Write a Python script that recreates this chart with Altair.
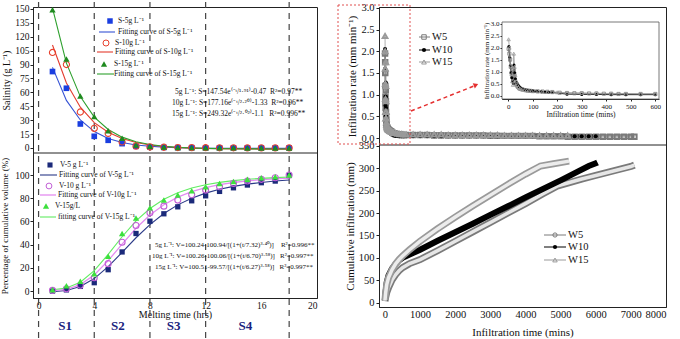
import altair as alt
import pandas as pd

FONT = "Liberation Serif"

# ---------------- left panel data ----------------
hours = [1, 2, 3, 4, 5, 6, 7, 8, 9, 10, 11, 12, 13, 14, 15, 16, 17, 18]
s5 = [82.4, 64.4, 25.9, 12.6, 8.3, 4.7, 1.8, 1.1, 0.6, 0.4, 0.3, 0.2, 0.2, 0.1, 0.1, 0.1, 0.1, 0.1]
s10 = [103, 90, 38.8, 21.2, 15.8, 6.5, 2.0, 1.2, 0.8, 0.5, 0.4, 0.3, 0.2, 0.2, 0.1, 0.1, 0.1, 0.1]
s15 = [149, 96, 56, 34, 18.7, 10.4, 3.2, 1.8, 1.0, 0.6, 0.4, 0.3, 0.2, 0.2, 0.1, 0.1, 0.1, 0.1]
fit_s5 = [86.9, 51.3, 30.2, 17.7, 10.3, 5.9, 3.3, 1.8, 0.9, 0.3, 0.0, -0.2, -0.3, -0.4, -0.4, -0.4, -0.45, -0.45]
fit_s10 = [111.1, 70.1, 44.0, 27.4, 16.9, 10.3, 6.0, 3.3, 1.6, 0.55, -0.1, -0.6, -0.85, -1.0, -1.1, -1.2, -1.25, -1.3]
fit_s15 = [150.9, 91.5, 55.4, 33.3, 19.9, 11.7, 6.7, 3.7, 1.8, 0.7, 0.0, -0.44, -0.7, -0.85, -0.95, -1.0, -1.05, -1.07]

v5 = [0, 1, 4, 7.2, 18.4, 33.7, 49.6, 60.2, 66.6, 72.6, 77.8, 82.1, 85.9, 89, 91.4, 93.4, 94.8, 99.6]
v10 = [0.6, 2, 5, 11.5, 23.6, 42, 56.5, 67.4, 73.2, 78.4, 83, 87, 89.9, 92.8, 94.8, 96.3, 97.7, 100]
v15 = [1.2, 4.5, 8.5, 15, 30, 49.6, 63, 71.8, 78.4, 82.7, 86.5, 89.9, 92.8, 94.5, 96.3, 97.7, 98.6, 100]
fit_v5 = [-0.58, 0.51, 3.94, 10.76, 20.98, 33.34, 45.94, 57.32, 66.80, 74.28, 80.03, 84.39, 87.70, 90.22, 92.15, 93.63, 94.80, 95.72]
fit_v10 = [0.31, 1.50, 5.54, 13.84, 26.18, 40.48, 54.15, 65.60, 74.45, 81.00, 85.76, 89.21, 91.73, 93.58, 94.97, 96.01, 96.81, 97.43]
fit_v15 = [1.08, 2.58, 7.58, 17.54, 31.58, 46.81, 60.41, 71.16, 79.09, 84.75, 88.77, 91.64, 93.69, 95.20, 96.31, 97.15, 97.79, 98.28]

phase_edges = [0, 4, 8, 12, 18]
stage_names = ["S1", "S2", "S3", "S4"]
stage_pos = [1.9, 5.7, 9.7, 14.85]

# ---------------- right panel data ----------------
r5_t = [2, 5, 8, 11, 14, 17, 20, 23, 26, 29,
        32, 36, 40, 45, 50, 60, 70, 80, 90, 100,
        120, 140, 160, 180, 210, 240, 270, 300, 330, 360,
        390, 420, 450, 480, 540, 600,
        800, 1000, 1200, 1400, 1600, 1800, 2000, 2200, 2400, 2600, 2800,
        3000, 3200, 3400, 3600, 3800, 4000, 4200,
        4400, 4600, 4800, 5000,
        5200, 5400, 5600, 5800, 6000, 6200, 6400, 6600, 6800, 7000, 7100]
r5_v = [1.95, 1.75, 1.5, 1.2, 0.95, 0.8, 0.7, 1.1, 0.85, 0.6,
        0.5, 0.42, 0.36, 0.31, 0.28, 0.25, 0.23, 0.21, 0.2, 0.19,
        0.18, 0.17, 0.16, 0.15, 0.12, 0.11, 0.1, 0.1, 0.09, 0.09,
        0.08, 0.08, 0.07, 0.07, 0.07, 0.07,
        0.07, 0.07, 0.07, 0.06, 0.06, 0.06, 0.06, 0.06, 0.06, 0.06, 0.06,
        0.05, 0.05, 0.05, 0.05, 0.05, 0.05, 0.05,
        0.04, 0.04, 0.04, 0.04,
        0.03, 0.03, 0.03, 0.03, 0.03, 0.03, 0.03, 0.03, 0.03, 0.03, 0.03]

r10_t = [3, 6, 9, 12, 15, 18, 21, 24, 27, 30,
         35, 40, 45, 50, 60, 70, 80, 90, 100, 110,
         120, 135, 150, 165, 180,
         240, 300, 360, 420, 480, 540, 600,
         800, 1000, 1200, 1400, 1600, 1800, 2000,
         2200, 2400, 2600, 2800, 3000, 3200, 3400, 3600, 3800, 4000,
         4200, 4400, 4600, 4800, 5000, 5200, 5400, 5600, 5800, 6000]
r10_v = [2.05, 1.6, 1.25, 0.95, 0.75, 0.6, 0.5, 1.28, 0.95, 0.7,
         0.55, 0.45, 0.38, 0.33, 0.28, 0.24, 0.22, 0.2, 0.19, 0.18,
         0.17, 0.16, 0.15, 0.14, 0.13,
         0.06, 0.05, 0.05, 0.04, 0.04, 0.04, 0.04,
         0.04, 0.04, 0.04, 0.04, 0.04, 0.04, 0.04,
         0.04, 0.04, 0.04, 0.04, 0.04, 0.04, 0.04, 0.04, 0.04, 0.04,
         0.04, 0.04, 0.04, 0.04, 0.04, 0.04, 0.04, 0.04, 0.04, 0.04]

r15_t = [2, 5, 8, 11, 14, 17, 20, 23, 26, 29,
         33, 37, 42, 48, 55, 65, 75, 85, 95, 110,
         125, 140, 160, 180, 200,
         240, 300, 360, 420, 480, 540, 600,
         800, 1000, 1200, 1400, 1600,
         1800, 2000, 2200, 2400, 2600, 2800, 3000, 3200,
         3400, 3600, 3800, 4000, 4200, 4400, 4600, 4800, 5000, 5200]
r15_v = [2.35, 2.0, 1.6, 1.25, 0.9, 0.6, 0.45, 1.75, 1.2, 0.85,
         0.6, 0.45, 0.36, 0.3, 0.26, 0.24, 0.22, 0.21, 0.2, 0.19,
         0.18, 0.17, 0.16, 0.15, 0.14,
         0.12, 0.11, 0.1, 0.09, 0.09, 0.08, 0.08,
         0.08, 0.08, 0.08, 0.08, 0.08,
         0.07, 0.07, 0.07, 0.07, 0.07, 0.07, 0.07, 0.07,
         0.06, 0.06, 0.06, 0.06, 0.06, 0.06, 0.06, 0.06, 0.06, 0.06]

c5_t = [0, 20, 50, 100, 200, 300, 400, 500, 700, 1000, 1500, 2000, 2500, 3000, 3500,
        4000, 4500, 4900, 5200, 5600, 6000, 6500, 7000, 7100]
c5_v = [3, 12, 22, 33, 50, 62, 71, 78, 87, 96, 116, 137, 158, 179, 200,
        221, 243, 260, 267, 276, 284, 294, 304, 307]
c10_t = [0, 20, 50, 100, 200, 300, 400, 500, 1000, 1500, 2000, 2500, 3000, 3500,
         4000, 4500, 5000, 5500, 5800, 6000, 6050]
c10_v = [5, 25, 45, 60, 76, 86, 94, 100, 118, 138, 157, 176, 196, 215,
         235, 254, 273, 293, 305, 311, 313]
c15_t = [0, 20, 50, 100, 200, 300, 400, 500, 700, 1000, 1500, 2000, 2500, 3000, 3500,
         4000, 4430, 4800, 5240]
c15_v = [5, 22, 40, 55, 73, 86, 96, 104, 118, 137, 165, 191, 216, 240, 264,
         287, 305, 310, 316]

# ---------------- colours ----------------
C_S5, C_S5L = "#1a3ee0", "#3552d4"
C_S10, C_S10L = "#e8402c", "#e33b2e"
C_S15, C_S15L = "#1f8a1f", "#2ea02e"
C_V5, C_V5L = "#1b2a7a", "#2b3a88"
C_V10, C_V10L = "#c25fd6", "#e48cf0"
C_V15, C_V15L = "#3de03d", "#62ec62"
G5, G15 = "#7a7a7a", "#9a9a9a"
NB = "\u00a0"


def one_row():
    return pd.DataFrame({"k": [0]})


def pt(x, y, shape, color, filled, size=30, sw=1.0):
    return alt.Chart(one_row()).mark_point(
        shape=shape, filled=filled, color=color, size=size, opacity=1, strokeWidth=sw
    ).encode(x=alt.value(x), y=alt.value(y))


def seg(x1, x2, y1, y2, color, w=1.2, dash=None):
    kw = dict(color=color, strokeWidth=w)
    if dash:
        kw["strokeDash"] = dash
    return alt.Chart(one_row()).mark_rule(**kw).encode(
        x=alt.value(x1), x2=alt.value(x2), y=alt.value(y1), y2=alt.value(y2)
    )


def txt(x, y, s, size=7.5, color="#111", align="left", weight="normal"):
    return alt.Chart(one_row()).mark_text(
        align=align, baseline="middle", font=FONT, fontSize=size, color=color, fontWeight=weight
    ).encode(x=alt.value(x), y=alt.value(y), text=alt.value(s))


# ================= left column (one layered view, two stacked y scales) =================
HT, HB = 146, 145
H_LEFT = HT + HB
XL = alt.Scale(domain=[-0.4, 20], nice=False, zero=False)
XL_AX = alt.Axis(values=[0, 4, 8, 12, 16, 20], ticks=False, title="Melting time (hrs)",
                 labelFontSize=9.5, titleFontSize=10, labelPadding=2, titlePadding=0)


def xl(field):
    return alt.X(field + ":Q", scale=XL, axis=XL_AX)


YTL = alt.Y("v:Q", scale=alt.Scale(domain=[-5.4, 152], range=[HT, 0], nice=False, zero=False),
            axis=alt.Axis(orient="left", values=list(range(0, 151, 15)), title="Salinity (g L\u207b\u00b9)",
                          labelFontSize=9.5, titleFontSize=10, titlePadding=3, tickSize=3, labelPadding=1))
YBL = alt.Y("v:Q", scale=alt.Scale(domain=[-6, 119], range=[H_LEFT, HT], nice=False, zero=False),
            axis=alt.Axis(orient="left", values=[0, 20, 40, 60, 80, 100], title="Percentage of cumulative volume (%)",
                          labelFontSize=9.5, titleFontSize=9, titlePadding=5, tickSize=3, labelPadding=1))


def series(xs, ys):
    return pd.DataFrame({"h": xs, "v": ys})


o = HT
tl_group = alt.layer(
    alt.Chart(pd.DataFrame({"p": phase_edges})).mark_rule(color="#444", strokeDash=[6, 5], strokeWidth=1.2)
    .encode(x=xl("p"), y=alt.value(-5), y2=alt.value(H_LEFT + 43)),
    seg(0, 284, HT, HT, "#222", 1),
    alt.Chart(series(hours, fit_s5)).mark_line(color=C_S5L, strokeWidth=1.1).encode(x=xl("h"), y=YTL),
    alt.Chart(series(hours, fit_s10)).mark_line(color=C_S10L, strokeWidth=1.1).encode(x=xl("h"), y=YTL),
    alt.Chart(series(hours, fit_s15)).mark_line(color=C_S15L, strokeWidth=1.1).encode(x=xl("h"), y=YTL),
    alt.Chart(series(hours, s5)).mark_point(shape="square", filled=True, color=C_S5, size=32, opacity=1)
    .encode(x=xl("h"), y=YTL),
    alt.Chart(series(hours, s10)).mark_point(shape="circle", filled=False, color=C_S10, size=38, opacity=1, strokeWidth=1.1)
    .encode(x=xl("h"), y=YTL),
    alt.Chart(series(hours, s15)).mark_point(shape="triangle-up", filled=True, color=C_S15, size=40, opacity=1)
    .encode(x=xl("h"), y=YTL),
    pt(77, 14, "square", C_S5, True, 30), txt(85, 14, "S-5g L\u207b\u00b9"),
    seg(66, 82, 25, 25, C_S5L, 1.1), txt(85, 25, "Fitting curve of S-5g L\u207b\u00b9"),
    pt(73, 36, "circle", C_S10, False, 36), txt(82, 36, "S-10g L\u207b\u00b9"),
    seg(64, 80, 45, 45, C_S10L, 1.1), txt(82, 45, "Fitting curve of S-10g L\u207b\u00b9"),
    pt(71, 57, "triangle-up", C_S15, True, 38), txt(81, 57, "S-15g L\u207b\u00b9"),
    seg(64, 81, 67, 67, C_S15L, 1.1), txt(81, 67, "Fitting curve of S-15g L\u207b\u00b9"),
    txt(142, 85, "5g L\u207b\u00b9: S=147.54e\u207d\u207b\u1d57/\u00b9\u00b7\u2079\u00b9\u207e-0.47" + NB * 2 + "R\u00b2=0.97**"),
    txt(139, 96, "10g L\u207b\u00b9: S=177.16e\u207d\u207b\u1d57/\u00b2\u00b7\u00b2\u2070\u207e-1.33" + NB * 2 + "R\u00b2=0.96**"),
    txt(139, 107, "15g L\u207b\u00b9: S=249.32e\u207d\u207b\u1d57/\u00b2\u00b7\u2070\u00b2\u207e-1.1" + NB * 3 + "R\u00b2=0.996**"),
)

bl_group = alt.layer(
    alt.Chart(series(hours, fit_v5)).mark_line(color=C_V5L, strokeWidth=1.1).encode(x=xl("h"), y=YBL),
    alt.Chart(series(hours, fit_v10)).mark_line(color=C_V10L, strokeWidth=1.3).encode(x=xl("h"), y=YBL),
    alt.Chart(series(hours, fit_v15)).mark_line(color=C_V15L, strokeWidth=1.1).encode(x=xl("h"), y=YBL),
    alt.Chart(series(hours, v5)).mark_point(shape="square", filled=True, color=C_V5, size=28, opacity=1)
    .encode(x=xl("h"), y=YBL),
    alt.Chart(series(hours, v10)).mark_point(shape="circle", filled=False, color=C_V10, size=36, opacity=1, strokeWidth=1.1)
    .encode(x=xl("h"), y=YBL),
    alt.Chart(series(hours, v15)).mark_point(shape="triangle-up", filled=True, color=C_V15, size=40, opacity=1)
    .encode(x=xl("h"), y=YBL),
    alt.Chart(pd.DataFrame({"p": stage_pos, "n": stage_names})).mark_text(
        font=FONT, fontSize=13, fontWeight="bold", color="#1a237e", baseline="middle")
    .encode(x=xl("p"), y=alt.value(o + 173), text="n:N"),
    pt(17, o + 12, "square", C_V5, True, 26), txt(27, o + 12, "V-5 g L\u207b\u00b9"),
    seg(7, 24, o + 22, o + 22, C_V5L, 1.1), txt(26, o + 22, "Fitting curve of V-5g L\u207b\u00b9"),
    pt(16, o + 33, "circle", C_V10, False, 34), txt(26, o + 33, "V-10 g L\u207b\u00b9"),
    seg(7, 23, o + 42, o + 42, C_V10L, 1.3), txt(25, o + 42, "Fitting curve of V-10g L\u207b\u00b9"),
    pt(13, o + 53, "triangle-up", C_V15, True, 38), txt(22, o + 53, "V-15g/L"),
    seg(7, 23, o + 64, o + 64, C_V15L, 1.1), txt(25, o + 64, "fitting curve of V-15g L\u207b\u00b9"),
    txt(122, o + 92, "5g L\u207b\u00b9: V=100.24-100.94/[(1+(t/7.32)\u00b3\u00b7\u2074\u2070)]" + NB * 4 + "R\u00b2=0.996**", size=7),
    txt(119, o + 103, "10g L\u207b\u00b9: V=100.26-100.06/[(1+(t/6.70)\u00b3\u00b7\u2075\u2078)]" + NB * 3 + "R\u00b2=0.997**", size=7),
    txt(122, o + 114, "15g L\u207b\u00b9: V=100.51-99.57/[(1+(t/6.27)\u00b3\u00b7\u2075\u2078)]" + NB * 3 + "R\u00b2=0.997**", size=7),
)

left = alt.layer(tl_group, bl_group).resolve_scale(y="independent").resolve_axis(y="independent").properties(
    width=284, height=H_LEFT)

# ================= right column (one layered view) =================
RT, RB = 138, 162
H_RIGHT = RT + RB
XR = alt.Scale(domain=[-170, 8000], nice=False, zero=False)


def xr(show):
    if show:
        return alt.X("t:Q", scale=XR,
                     axis=alt.Axis(orient="bottom", values=list(range(0, 8001, 1000)), format="d", ticks=False,
                                   title="Infiltration time (mins)", labelFontSize=10.5, titleFontSize=11,
                                   labelPadding=2, titlePadding=7))
    return alt.X("t:Q", scale=XR, axis=None)


YTR = alt.Y("v:Q", scale=alt.Scale(domain=[-0.16, 3.02], range=[RT, 0], nice=False, zero=False),
            axis=alt.Axis(orient="left", values=[0, 0.5, 1.0, 1.5, 2.0, 2.5, 3.0], format=".1f",
                          title="Infiltration rate (mm min\u207b\u00b9)", labelFontSize=10.5,
                          titleFontSize=11, titlePadding=3, tickSize=3, labelPadding=2))
YBR = alt.Y("v:Q", scale=alt.Scale(domain=[-10, 352], range=[H_RIGHT, RT], nice=False, zero=False),
            axis=alt.Axis(orient="left", values=list(range(0, 351, 50)), title="Cumulative infiltration (mm)",
                          labelFontSize=10.5, titleFontSize=11, titlePadding=3, tickSize=3, labelPadding=2))

df_r5 = pd.DataFrame({"t": r5_t, "v": r5_v})
df_r10 = pd.DataFrame({"t": r10_t, "v": r10_v})
df_r15 = pd.DataFrame({"t": r15_t, "v": r15_v})

tr_group = alt.layer(
    alt.Chart(df_r5).transform_filter("datum.t >= 180").mark_line(color=G5, strokeWidth=5).encode(x=xr(False), y=YTR),
    alt.Chart(df_r5).transform_filter("datum.t >= 180").mark_line(color="#eeeeee", strokeWidth=2).encode(x=xr(False), y=YTR),
    alt.Chart(df_r15).transform_filter("datum.t >= 200").mark_line(color=G15, strokeWidth=5).encode(x=xr(False), y=YTR),
    alt.Chart(df_r15).transform_filter("datum.t >= 200").mark_line(color="#eeeeee", strokeWidth=2).encode(x=xr(False), y=YTR),
    alt.Chart(df_r10).transform_filter("datum.t >= 4200").mark_line(color="black", strokeWidth=4).encode(x=xr(False), y=YTR),
    alt.Chart(df_r5).mark_line(color=G5, strokeWidth=0.8).encode(x=xr(False), y=YTR),
    alt.Chart(df_r10).mark_line(color="black", strokeWidth=0.8).encode(x=xr(False), y=YTR),
    alt.Chart(df_r15).mark_line(color=G15, strokeWidth=0.8).encode(x=xr(False), y=YTR),
    alt.Chart(df_r5).mark_point(shape="square", filled=False, color=G5, size=20, opacity=1).encode(x=xr(False), y=YTR),
    alt.Chart(df_r10).mark_point(shape="circle", filled=True, color="black", size=16, opacity=1).encode(x=xr(False), y=YTR),
    alt.Chart(df_r15).mark_point(shape="triangle-up", filled=False, color=G15, size=22, opacity=1).encode(x=xr(False), y=YTR),
    seg(0, 287, RT, RT, "#222", 1),
    alt.Chart(one_row()).mark_rect(fillOpacity=0, stroke="#e05050", strokeWidth=1, strokeDash=[2, 2])
    .encode(x=alt.value(-41), x2=alt.value(31), y=alt.value(-2), y2=alt.value(RT - 1)),
    seg(32, 95, 104, 79, "#e53030", 1.5, [4, 3]),
    pt(97, 78, "triangle-up", "#e53030", True, 30).encode(angle=alt.value(68)),
    seg(40, 51, 30, 30, G5, 1), pt(45, 30, "square", G5, False, 20), txt(53, 30, "W5", 10.5),
    seg(40, 51, 43, 43, "black", 1), pt(45, 43, "circle", "black", True, 18), txt(53, 43, "W10", 10.5),
    seg(40, 51, 55, 55, G15, 1), pt(45, 55, "triangle-up", G15, False, 22), txt(53, 55, "W15", 10.5),
)

XI = alt.X("t:Q", scale=alt.Scale(domain=[-25, 615], range=[123, 280], nice=False, zero=False),
           axis=alt.Axis(orient="bottom", offset=92 - H_RIGHT, values=[0, 100, 200, 300, 400, 500, 600],
                         labelFontSize=7, title="Infiltration time (mins)", titleFontSize=7.5,
                         tickSize=2, labelPadding=1, titlePadding=1))
YI = alt.Y("v:Q", scale=alt.Scale(domain=[-0.14, 3.07], range=[92, 15], nice=False, zero=False),
           axis=alt.Axis(orient="left", offset=-123, values=[0, 0.5, 1.0, 1.5, 2.0, 2.5, 3.0], format=".1f",
                         labelFontSize=7, title="Infiltration rate (mm min\u207b\u00b9)", titleFontSize=7,
                         tickSize=2, labelPadding=1, titlePadding=1))

inset_group = alt.layer(
    alt.Chart(one_row()).mark_rect(fill="white", stroke="#555", strokeWidth=0.8)
    .encode(x=alt.value(123), x2=alt.value(280), y=alt.value(15), y2=alt.value(92)),
    alt.Chart(df_r5).transform_filter("datum.t <= 600").mark_line(color=G5, strokeWidth=0.8).encode(x=XI, y=YI),
    alt.Chart(df_r10).transform_filter("datum.t <= 600").mark_line(color="black", strokeWidth=0.8).encode(x=XI, y=YI),
    alt.Chart(df_r15).transform_filter("datum.t <= 600").mark_line(color=G15, strokeWidth=0.8).encode(x=XI, y=YI),
    alt.Chart(df_r5).transform_filter("datum.t <= 600").mark_point(shape="square", filled=False, color=G5, size=10, opacity=1, strokeWidth=0.8).encode(x=XI, y=YI),
    alt.Chart(df_r10).transform_filter("datum.t <= 600").mark_point(shape="circle", filled=True, color="black", size=9, opacity=1).encode(x=XI, y=YI),
    alt.Chart(df_r15).transform_filter("datum.t <= 600").mark_point(shape="triangle-up", filled=False, color=G15, size=12, opacity=1, strokeWidth=0.8).encode(x=XI, y=YI),
)

df_c5 = pd.DataFrame({"t": c5_t, "v": c5_v})
df_c10 = pd.DataFrame({"t": c10_t, "v": c10_v})
df_c15 = pd.DataFrame({"t": c15_t, "v": c15_v})
b = RT
br_group = alt.layer(
    alt.Chart(df_c5).mark_line(color=G5, strokeWidth=7).encode(x=xr(True), y=YBR),
    alt.Chart(df_c5).mark_line(color="#e6e6e6", strokeWidth=3.5).encode(x=xr(True), y=YBR),
    alt.Chart(df_c10).mark_line(color="black", strokeWidth=6).encode(x=xr(True), y=YBR),
    alt.Chart(df_c15).mark_line(color=G15, strokeWidth=7).encode(x=xr(True), y=YBR),
    alt.Chart(df_c15).mark_line(color="#ececec", strokeWidth=3.5).encode(x=xr(True), y=YBR),
    seg(165, 187, b + 90, b + 90, G5, 1), pt(176, b + 90, "circle", G5, False, 18), txt(189, b + 90, "W5", 10.5),
    seg(165, 187, b + 102, b + 102, "black", 1), pt(176, b + 102, "circle", "black", True, 18), txt(189, b + 102, "W10", 10.5),
    seg(165, 187, b + 115, b + 115, G15, 1), pt(176, b + 115, "triangle-up", G15, False, 20), txt(189, b + 115, "W15", 10.5),
)

right = alt.layer(tr_group, inset_group, br_group).resolve_scale(x="independent", y="independent").resolve_axis(
    x="independent", y="independent").properties(width=287, height=H_RIGHT)

chart = alt.hconcat(left, right, spacing=19).properties(
    padding={"left": 0, "top": 0, "right": 0, "bottom": 0}
).configure_view(stroke="#222", strokeWidth=1).configure_axis(
    grid=False, domainColor="#222", tickColor="#222", labelColor="#111", titleColor="#111",
    labelFont=FONT, titleFont=FONT, titleFontWeight="normal", domainWidth=1
).configure_text(font=FONT)

chart.save("out.html", embed_options={"renderer": "svg", "actions": False})
